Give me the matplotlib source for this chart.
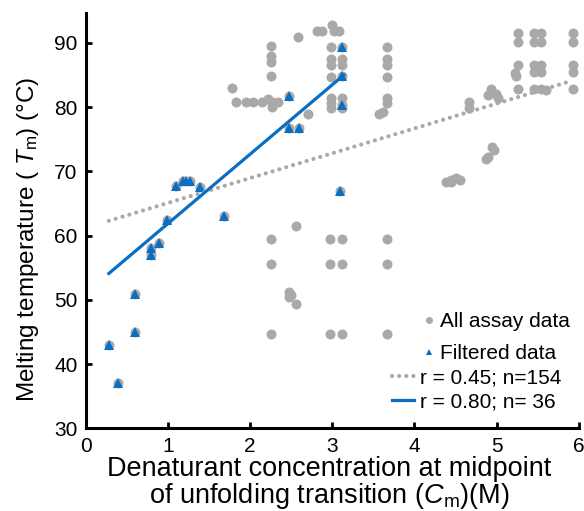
import matplotlib
matplotlib.use('Agg')
import matplotlib.pyplot as plt

plt.rcParams['font.family'] = ['Liberation Sans', 'DejaVu Sans']
plt.rcParams['mathtext.fontset'] = 'custom'
plt.rcParams['mathtext.rm'] = 'Liberation Sans'
plt.rcParams['mathtext.it'] = 'Liberation Sans:italic'

# все данные анализа (серые точки)
all_cm = [0.28, 0.39, 0.60, 0.60, 0.79, 0.79, 0.89, 0.99, 1.10, 1.18, 1.22, 1.27, 1.39, 1.68,
          2.47, 2.47, 2.59, 3.12, 3.12, 3.12, 3.09,
          1.78, 1.83, 1.95, 2.04, 2.14, 2.22, 2.26, 2.34, 2.26,
          2.25, 2.25, 2.25, 2.25,
          2.58, 2.81, 2.88, 3.00, 3.02, 3.08,
          2.70,
          2.99, 2.99, 2.99, 2.99, 2.99, 2.99, 2.99,
          3.12, 3.12, 3.12, 3.12,
          3.67, 3.67, 3.67, 3.67, 3.67, 3.67, 3.62, 3.57,
          2.25, 2.25, 2.25, 2.56, 2.47, 2.47, 2.56, 2.50,
          2.97, 2.97, 2.97, 3.12, 3.12, 3.12, 3.67, 3.67, 3.67,
          4.39, 4.45, 4.51, 4.55, 4.45,
          4.87, 4.89, 4.95, 4.97,
          4.66, 4.67,
          4.93, 4.89, 5.02, 4.99,
          5.26, 5.26, 5.26, 5.22, 5.24, 5.26,
          5.46, 5.54, 5.46, 5.54, 5.46, 5.54, 5.46, 5.54, 5.46, 5.54, 5.60,
          5.93, 5.93, 5.93, 5.93, 5.93]
all_tm = [43.0, 37.1, 50.9, 45.0, 56.9, 58.0, 58.8, 62.5, 67.8, 68.5, 68.5, 68.5, 67.6, 63.0,
          81.7, 76.8, 76.8, 89.4, 84.8, 80.3, 66.9,
          83.0, 80.8, 80.8, 80.8, 80.8, 81.3, 80.8, 80.8, 80.0,
          89.5, 88.0, 87.0, 84.8,
          91.0, 91.8, 91.8, 92.8, 91.8, 91.8,
          78.9,
          89.4, 87.5, 86.6, 84.7, 81.5, 80.6, 79.8,
          87.5, 86.6, 81.5, 79.8,
          89.4, 87.5, 86.6, 84.7, 81.5, 80.6, 79.3, 79.0,
          59.5, 55.6, 44.6, 61.5, 51.2, 50.4, 49.4, 50.8,
          59.5, 55.6, 44.6, 59.5, 55.6, 44.6, 59.5, 55.6, 44.6,
          68.4, 68.6, 68.9, 68.6, 68.4,
          72.0, 72.2, 73.8, 73.4,
          80.8, 79.8,
          82.9, 81.9, 81.4, 82.0,
          91.5, 90.2, 86.5, 85.3, 84.8, 82.9,
          91.5, 91.5, 90.2, 90.2, 86.5, 86.5, 85.5, 85.5, 82.9, 82.9, 82.6,
          91.5, 90.2, 86.5, 85.5, 82.9]

# отфильтрованные данные (синие треугольники)
filt_cm = [0.28, 0.39, 0.60, 0.60, 0.79, 0.79, 0.89, 0.99, 1.10, 1.18, 1.22, 1.27, 1.39, 1.68,
           2.47, 2.47, 2.59, 3.12, 3.12, 3.12, 3.09]
filt_tm = [43.0, 37.1, 50.9, 45.0, 56.9, 58.0, 58.8, 62.5, 67.8, 68.5, 68.5, 68.5, 67.6, 63.0,
           81.7, 76.8, 76.8, 89.4, 84.8, 80.3, 66.9]

# линии тренда
fit_all_x = [0.28, 5.89]
fit_all_y = [62.3, 84.0]
fit_filt_x = [0.28, 3.14]
fit_filt_y = [54.1, 85.0]

gray = '#a9a9a9'
blue = '#0a6fc2'

fig = plt.figure(figsize=(5.84, 5.11), dpi=100)
ax = fig.add_axes([0.147, 0.162, 0.844, 0.813])

p1, = ax.plot(all_cm, all_tm, 'o', color=gray, markersize=7.2, markeredgewidth=0)
p2, = ax.plot(filt_cm, filt_tm, '^', color=blue, markersize=7, markeredgewidth=0)
l1, = ax.plot(fit_all_x, fit_all_y, color=gray, linewidth=3, linestyle=(0, (0.01, 1.7)),
              dash_capstyle='round')
l2, = ax.plot(fit_filt_x, fit_filt_y, color=blue, linewidth=2.3)

ax.set_xlim(0, 6)
ax.set_ylim(30, 94.7)
ax.set_xticks(range(0, 7))
ax.set_yticks(range(30, 91, 10))

for s in ['top', 'right']:
    ax.spines[s].set_visible(False)
for s in ['left', 'bottom']:
    ax.spines[s].set_linewidth(2.2)
ax.tick_params(direction='in', length=4, width=2, labelsize=15, pad=6)

ax.set_xlabel('Denaturant concentration at midpoint\nof unfolding transition ($C_\\mathrm{m}$)(M)',
              fontsize=19.5, linespacing=0.98)
ax.xaxis.set_label_coords(0.493, -0.066, transform=ax.transAxes)
ax.xaxis.label.set_va('top')
ax.set_ylabel('Melting temperature ( $T_\\mathrm{m}$) (°C)', fontsize=17.5)
ax.yaxis.set_label_coords(-0.091, 0.455, transform=ax.transAxes)

# две легенды: маркеры и линии
leg1 = ax.legend([p1, p2], ['All assay data', 'Filtered data'], loc='upper left',
                 bbox_to_anchor=(0.683, 0.28), frameon=False, fontsize=15, borderpad=0,
                 borderaxespad=0, handlelength=0.6, handletextpad=0.25, labelspacing=0.65,
                 markerscale=0.7)
ax.add_artist(leg1)
ax.legend([l1, l2], ['r = 0.45; n=154', 'r = 0.80; n= 36'], loc='upper left',
          bbox_to_anchor=(0.621, 0.1435), frameon=False, fontsize=15, borderpad=0,
          borderaxespad=0, handlelength=1.06, handletextpad=0.3, labelspacing=0.22)

fig.savefig('out.png', dpi=100)
